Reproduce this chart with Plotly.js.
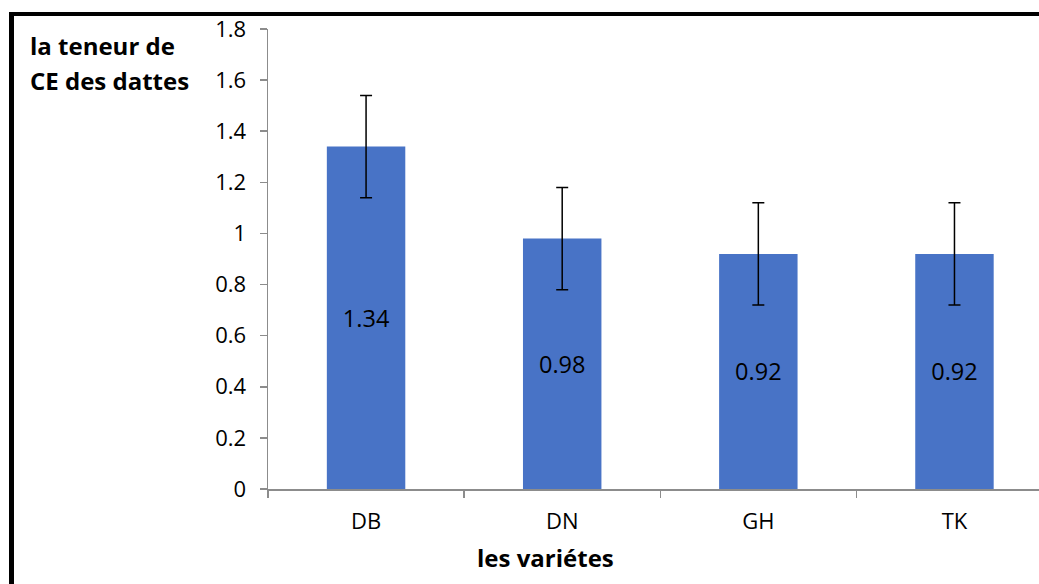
<!DOCTYPE html>
<html>
<head>
<meta charset="utf-8">
<script src="https://cdn.plot.ly/plotly-3.0.1.min.js"></script>
<style>
  html, body { margin: 0; padding: 0; background: #fff; overflow: hidden; }
  #chart { width: 1039px; height: 584px; }
  #frame { position: absolute; left: 9px; top: 12px; width: 1100px; height: 700px;
           border-left: 5px solid #000; border-top: 4px solid #000; pointer-events: none; }
</style>
</head>
<body>
<div id="chart"></div>
<div id="frame"></div>
<script>
const categories = ["DB", "DN", "GH", "TK"];
const values = [1.34, 0.98, 0.92, 0.92];
const errors = [0.2, 0.2, 0.2, 0.2];
const labels = ["1.34", "0.98", "0.92", "0.92"];
const yTicks = [0, 0.2, 0.4, 0.6, 0.8, 1, 1.2, 1.4, 1.6, 1.8];
const yTickText = ["0", "0.2", "0.4", "0.6", "0.8", "1", "1.2", "1.4", "1.6", "1.8"];
const yTitleLines = ["la teneur de", "CE des dattes"];
const xTitle = "les variétes";

const font = "'Open Sans', Lato, sans-serif";

const trace = {
  type: "bar",
  x: categories,
  y: values,
  width: 0.4,
  text: labels,
  textposition: "inside",
  insidetextanchor: "middle",
  textangle: 0,
  textfont: { family: font, size: 23.5, color: "#000" },
  marker: { color: "#4873c6", line: { width: 0 } },
  error_y: { type: "data", array: errors, visible: true, color: "#000", thickness: 1.5, width: 6 },
  hoverinfo: "none"
};

const layout = {
  width: 1039,
  height: 584,
  margin: { l: 268, r: 0, t: 29, b: 95 },
  paper_bgcolor: "#fff",
  plot_bgcolor: "#fff",
  showlegend: false,
  font: { family: font, size: 22, color: "#000" },
  xaxis: {
    type: "category",
    range: [-0.5, 3.431],
    showline: true, linecolor: "#8c8c8c", linewidth: 1.5,
    ticks: "outside", tickson: "boundaries", ticklen: 7, tickcolor: "#8c8c8c", tickwidth: 1.5,
    ticklabelstandoff: 12,
    tickfont: { family: font, size: 22, color: "#000" },
    showgrid: false, zeroline: false, fixedrange: true
  },
  yaxis: {
    range: [0, 1.8],
    tickmode: "array", tickvals: yTicks, ticktext: yTickText,
    showline: true, linecolor: "#8c8c8c", linewidth: 1.5,
    ticks: "outside", ticklen: 7, tickcolor: "#8c8c8c", tickwidth: 1.5,
    ticklabelstandoff: 9,
    tickfont: { family: font, size: 22, color: "#000" },
    showgrid: false, zeroline: false, fixedrange: true
  },
  annotations: [
    { text: "<b>" + yTitleLines[0] + "</b>", xref: "paper", yref: "paper",
      x: -0.311, y: 0.965, xanchor: "left", yanchor: "middle", showarrow: false,
      font: { family: font, size: 24, color: "#000" } },
    { text: "<b>" + yTitleLines[1] + "</b>", xref: "paper", yref: "paper",
      x: -0.311, y: 0.889, xanchor: "left", yanchor: "middle", showarrow: false,
      font: { family: font, size: 24, color: "#000" } },
    { text: "<b>" + xTitle + "</b>", xref: "paper", yref: "paper",
      x: (545 - 268) / 771, y: -0.148, xanchor: "center", yanchor: "middle", showarrow: false,
      font: { family: font, size: 24, color: "#000" } }
  ]
};

Plotly.newPlot("chart", [trace], layout, { staticPlot: true, displayModeBar: false });
</script>
</body>
</html>
